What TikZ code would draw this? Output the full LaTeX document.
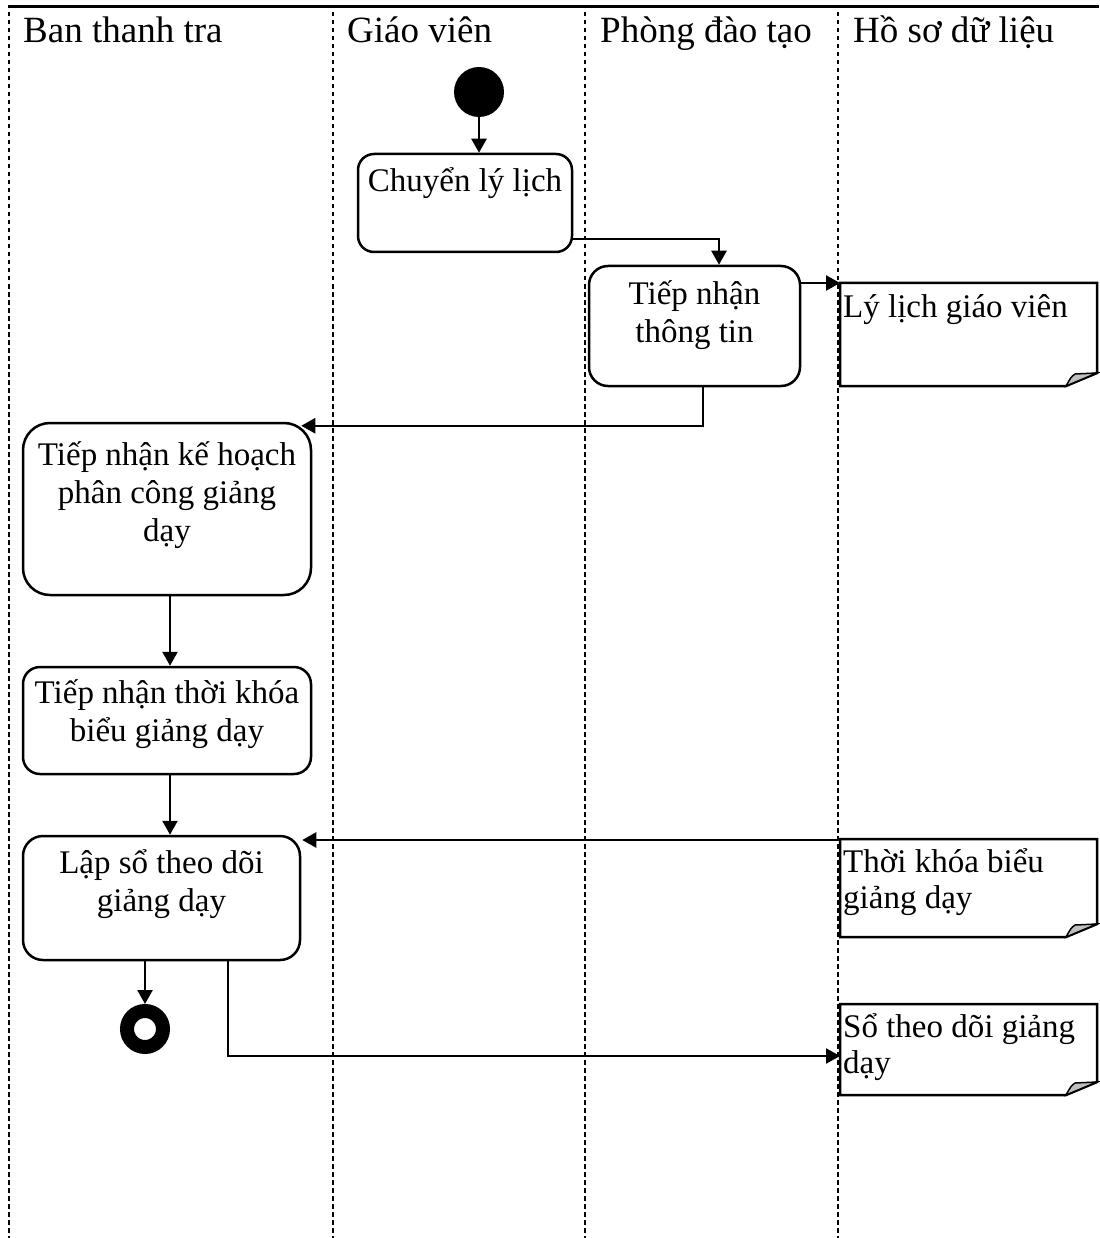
\documentclass[tikz,border=0pt]{standalone}
\usepackage{fontspec}
\setmainfont{Liberation Serif}
\usetikzlibrary{arrows.meta,calc}

\begin{document}
\begin{tikzpicture}[x=1pt,y=-1pt,
  lane/.style={line width=2.8pt, dash pattern=on 4.5pt off 3.5pt},
  actbox/.style={draw, line width=2.5pt, rectangle, inner sep=0pt, rounded corners=#1},
  notebody/.style={rectangle, inner sep=0pt, outer sep=0pt, minimum width=257pt, anchor=north west},
  boxtext/.style={font=\fontsize{33}{38}\selectfont, align=center, inner sep=0pt, anchor=base},
  notetext/.style={font=\fontsize{33}{36.5}\selectfont, align=left, inner sep=0pt, anchor=base west},
  lanetitle/.style={font=\fontsize{37}{44}\selectfont, inner sep=0pt, anchor=base west},
  flow/.style={line width=2.5pt, -{Triangle[length=14pt,width=15pt]}},
  sheet/.style={line width=2.5pt, fill=white},
  curl/.style={line width=1.5pt, fill=black!25}
]
\useasboundingbox (0,0) rectangle (1099,1238);

% swimlane frame
\draw[line width=3pt] (8,7) -- (1099,7);
\foreach \x in {9,333,585,838} \draw[lane] (\x,12) -- (\x,1238);

% lane titles
\node[lanetitle] (h1) at (23,43) {Ban thanh tra};
\node[lanetitle] (h2) at (347,43) {Giáo viên};
\node[lanetitle] (h3) at (600,43) {Phòng đào tạo};
\node[lanetitle] (h4) at (853,43) {Hồ sơ dữ liệu};

% initial and final states
\node[circle, fill=black, inner sep=0pt, minimum size=50pt] (start) at (479,92) {};
\node[circle, draw=black, line width=14pt, fill=white, inner sep=0pt, minimum size=36pt] (finish) at (145,1029) {};

% activities
\node[actbox=16pt, minimum width=214pt, minimum height=98pt]  (b1) at (465,203) {};
\node[actbox=19pt, minimum width=211pt, minimum height=120pt] (b2) at (694.5,326) {};
\node[actbox=27pt, minimum width=288pt, minimum height=172pt] (b3) at (167,509) {};
\node[actbox=17pt, minimum width=288pt, minimum height=107pt] (b4) at (167,720.5) {};
\node[actbox=20pt, minimum width=277pt, minimum height=124pt] (b5) at (161.5,898) {};

% activity labels (anchored at the baseline of the last line)
\node[boxtext] (t1) at (465,192) {Chuyển lý lịch};
\node[boxtext] (t2) at (694.5,342) {Tiếp nhận\\thông tin};
\node[boxtext] (t3) at (167,541) {Tiếp nhận kế hoạch\\phân công giảng\\dạy};
\node[boxtext] (t4) at (167,741) {Tiếp nhận thời khóa\\biểu giảng dạy};
\node[boxtext] (t5) at (161.5,911) {Lập sổ theo dõi\\giảng dạy};

% data objects (notes with a curled corner)
\node[notebody, minimum height=103pt] (n1) at (840,283) {};
\node[notebody, minimum height=98pt]  (n2) at (840,839) {};
\node[notebody, minimum height=91pt]  (n3) at (840,1004) {};
\foreach \n in {n1,n2,n3} {
  \draw[sheet] (\n.north west) -- (\n.north east) -- ($(\n.south east)+(0,-13)$)
    -- ($(\n.south east)+(-31,0)$) -- (\n.south west) -- cycle;
  \draw[curl] ($(\n.south east)+(-31,0)$) .. controls ($(\n.south east)+(-26,-9)$) .. ($(\n.south east)+(-22,-12)$)
    -- ($(\n.south east)+(0,-13)$) -- cycle;
}
\node[notetext] (nt1) at (843,317) {Lý lịch giáo viên};
\node[notetext] (nt2) at (843,908.5) {Thời khóa biểu\\giảng dạy};
\node[notetext] (nt3) at (843,1073.5) {Sổ theo dõi giảng\\dạy};

% control and object flows
\coordinate (k1) at (719,239);
\coordinate (k2) at (703,427);
\coordinate (xc) at (170,0);
\coordinate (k4) at (228,1056);

\draw[flow] (start) -- (start |- b1.north);
\draw[flow] (b1.east |- k1) -| (b2.north -| k1);
\draw[flow] (b2.east |- n1.north west) -- (n1.north west);
\draw[flow] (b2.south -| k2) |- ($(b3.north east)+(-11,4)$);
\draw[flow] (b3.south -| xc) -- (b4.north -| xc);
\draw[flow] (b4.south -| xc) -- (b5.north -| xc);
\draw[flow] ($(n2.north west)+(0,1)$) -- ($(b5.east |- n2.north west)+(1,1)$);
\draw[flow] (finish |- b5.south) -- (finish);
\draw[flow] (b5.south -| k4) |- (n3.west |- k4);
\end{tikzpicture}
\end{document}
